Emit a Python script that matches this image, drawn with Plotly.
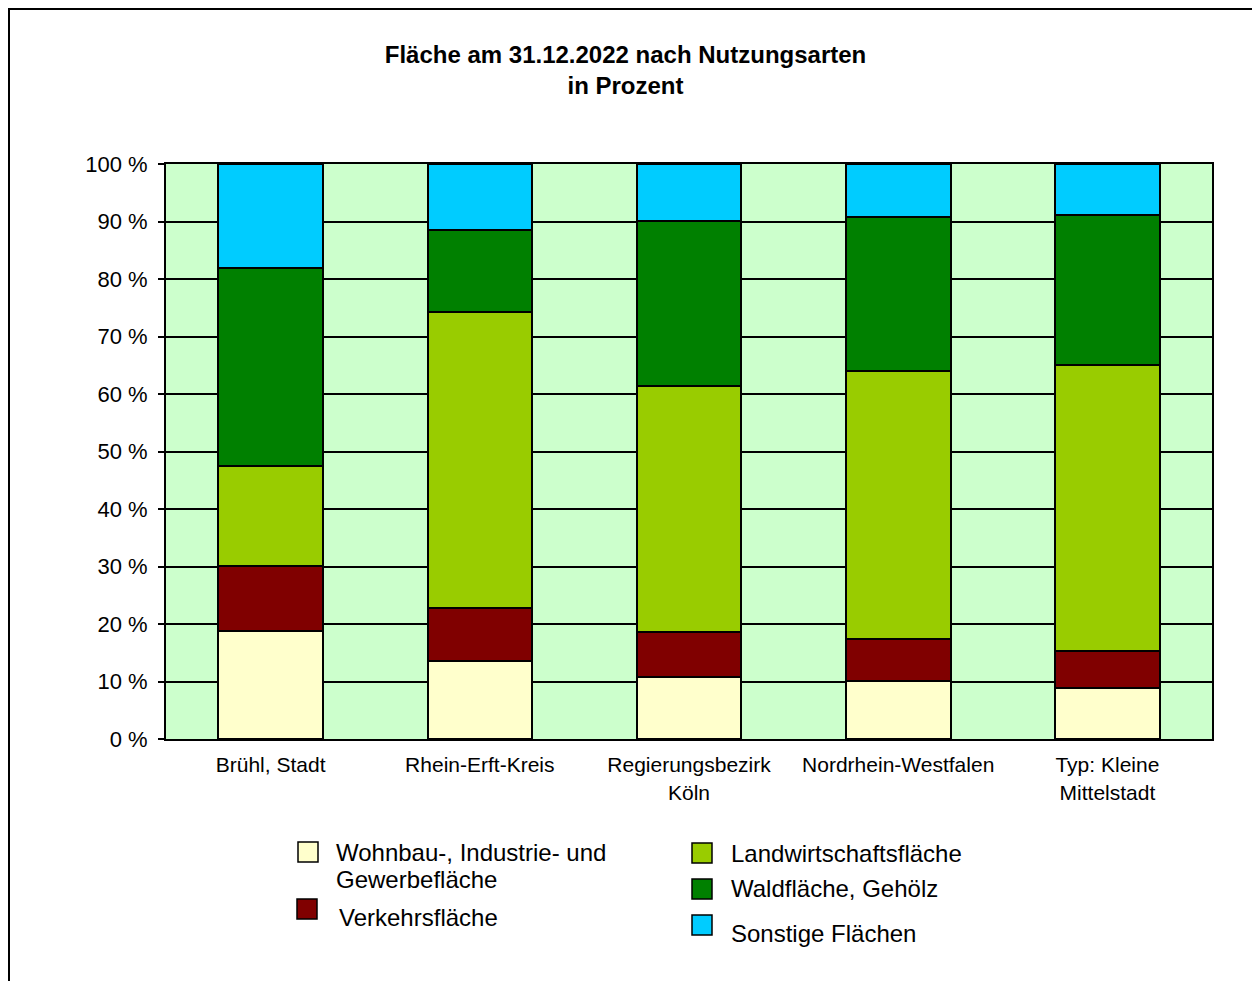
import plotly.graph_objects as go

categories = ["Brühl, Stadt", "Rhein-Erft-Kreis", "Regierungsbezirk<br>Köln",
              "Nordrhein-Westfalen", "Typ: Kleine<br>Mittelstadt"]
series_names = ["Wohnbau-, Industrie- und Gewerbefläche", "Verkehrsfläche",
                "Landwirtschaftsfläche", "Waldfläche, Gehölz", "Sonstige Flächen"]
wohnbau = [18.8, 13.6, 10.8, 10.1, 8.9]
verkehr = [11.3, 9.2, 7.8, 7.3, 6.4]
landwirtschaft = [17.4, 51.5, 42.8, 46.6, 49.7]
wald = [34.4, 14.2, 28.7, 26.8, 26.1]
sonstige = [18.1, 11.5, 9.9, 9.2, 8.9]
colors = ["#FFFFCC", "#800000", "#99CC00", "#008000", "#00CCFF"]
y_ticks = [0, 10, 20, 30, 40, 50, 60, 70, 80, 90, 100]
y_tick_labels = [f"{v} %" for v in y_ticks]

W, H = 1260, 981
OFF = 8  # page body margin
L, R, T, B = 166 - OFF, 1212 - OFF, 164 - OFF, 739 - OFF

def xp(px):
    return (px - OFF - L) / (R - L)

def yp(py):
    return (B - (py - OFF)) / (B - T)

fig = go.Figure()
for name, vals, col in zip(series_names, [wohnbau, verkehr, landwirtschaft, wald, sonstige], colors):
    fig.add_trace(go.Bar(x=categories, y=vals, name=name, marker_color=col,
                         marker_line_color="black", marker_line_width=2, width=0.5))

font = "Liberation Sans, Arial, sans-serif"
fig.update_layout(
    width=W, height=H, barmode="stack", showlegend=False,
    paper_bgcolor="white", plot_bgcolor="#CCFFCC",
    margin=dict(l=L, r=W - R, t=T, b=H - B, pad=0),
    font=dict(family=font, color="black"),
    title=dict(text="<b>Fläche am 31.12.2022 nach Nutzungsarten<br>in Prozent</b>",
               x=(625.5 - OFF) / W, xref="container", xanchor="center", y=1 - 55 / H, yref="container",
               yanchor="top", font=dict(size=24, family=font)),
)
fig.update_yaxes(range=[0, 100], tickvals=y_ticks, ticktext=y_tick_labels,
                 showgrid=True, gridcolor="black", gridwidth=2,
                 ticks="outside", ticklen=6, tickwidth=2, tickcolor="black",
                 showline=True, linecolor="black", linewidth=2, mirror=True,
                 tickfont=dict(size=22), zeroline=False, ticklabelstandoff=6)
fig.update_xaxes(showgrid=False, ticks="", showline=True, linecolor="black", linewidth=2,
                 mirror=True, tickfont=dict(size=21), ticklabelstandoff=6)

# outer frame
fig.add_shape(type="rect", xref="paper", yref="paper", x0=xp(9), x1=xp(1259), y0=yp(1000), y1=yp(9),
              line=dict(color="black", width=2), layer="above")

# legend
legend_boxes = [
    (298, 842, colors[0]),
    (297, 899, colors[1]),
    (692, 843, colors[2]),
    (692, 879, colors[3]),
    (692, 915, colors[4]),
]
legend_texts = [
    (334, 852, "Wohnbau-, Industrie- und"),
    (334, 879, "Gewerbefläche"),
    (337, 917, "Verkehrsfläche"),
    (729, 853, "Landwirtschaftsfläche"),
    (729, 888, "Waldfläche, Gehölz"),
    (729, 933, "Sonstige Flächen"),
]
for sx, sy, col in legend_boxes:
    fig.add_shape(type="rect", xref="paper", yref="paper", x0=xp(sx), x1=xp(sx + 20),
                  y0=yp(sy + 20), y1=yp(sy), fillcolor=col, line=dict(color="black", width=1.5))
for tx, ty, text in legend_texts:
    fig.add_annotation(xref="paper", yref="paper", x=xp(tx), y=yp(ty), text=text,
                       showarrow=False, xanchor="left", yanchor="middle", align="left",
                       font=dict(size=24, family=font))

fig.write_html("out.html")
